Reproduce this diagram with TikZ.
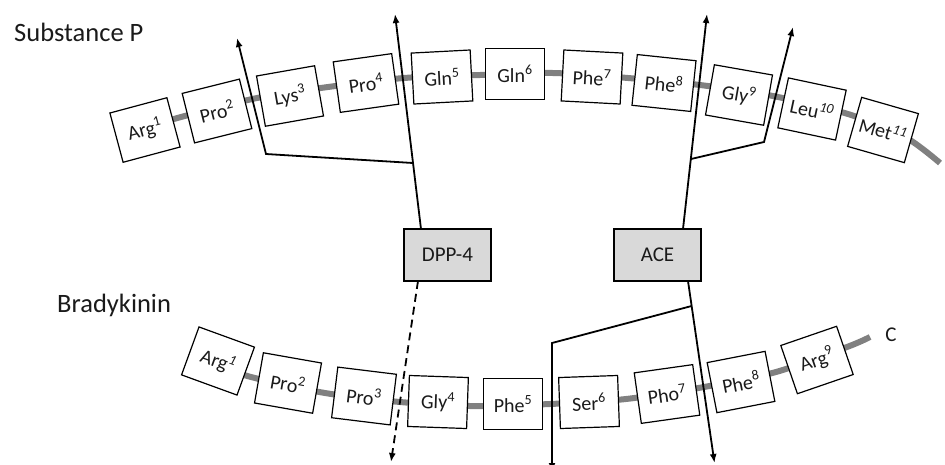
\documentclass[tikz,border=0pt]{standalone}
\usepackage{fontspec}
\setmainfont{Carlito}
\usetikzlibrary{arrows.meta}
\definecolor{bbgray}{HTML}{808080}
\definecolor{enzgray}{HTML}{D9D9D9}
\definecolor{txt}{HTML}{1A1A1A}
\begin{document}
\begin{tikzpicture}[x=1pt,y=-1pt,
  aa/.style={draw=black,line width=1.2pt,fill=white,text=txt,minimum width=59pt,minimum height=51pt,inner sep=0pt,font=\fontsize{20}{24}\selectfont},
  enz/.style={draw=black,line width=1.2pt,fill=enzgray,text=txt,minimum width=87pt,minimum height=52pt,inner sep=0pt,font=\fontsize{21}{25}\selectfont},
  bb/.style={draw=bbgray,line width=6pt},
  cut/.style={draw=black,line width=1.8pt},
  tip/.style={-{Latex[length=9pt,width=7pt]}},
  lbl/.style={text=txt,inner sep=0pt,font=\fontsize{26.5}{30}\selectfont}
]
\useasboundingbox (0,0) rectangle (945,464);

% labels
\node[lbl,anchor=base west] (lsp) at (14,41.7) {Substance P};
\node[lbl,anchor=base west] (lbk) at (57,312.7) {Bradykinin};
\node[text=txt,inner sep=0pt,font=\fontsize{21}{25}\selectfont] (cterm) at (891,335) {C};

% backbones
\draw[bb] plot[smooth,tension=0.5] coordinates {(145,128) (181,117) (257,98) (328,87) (404,78) (480,75) (553,73) (628,78) (700,85) (773,96) (848,114) (905,137) (940,163)};
\draw[bb] plot[smooth,tension=0.5] coordinates {(218,365) (251,377) (325,393) (400,402) (470,406) (550,404) (626,399) (704,387) (776,372) (847,347) (870,337)};

% Substance P residues
\node[aa,rotate=15]  (sp1)  at (145,130) {Arg\textsuperscript{1}};
\node[aa,rotate=14]  (sp2)  at (217,111) {Pro\textsuperscript{2}};
\node[aa,rotate=10]  (sp3)  at (290,96)  {Lys\textsuperscript{3}};
\node[aa,rotate=8]   (sp4)  at (366,83)  {Pro\textsuperscript{4}};
\node[aa,rotate=3]   (sp5)  at (442,77)  {Gln\textsuperscript{5}};
\node[aa,rotate=0]   (sp6)  at (515,74)  {Gln\textsuperscript{6}};
\node[aa,rotate=-3]  (sp7)  at (592,77)  {Phe\textsuperscript{7}};
\node[aa,rotate=-6]  (sp8)  at (664,83)  {Phe\textsuperscript{8}};
\node[aa,rotate=-10] (sp9)  at (739,95)  {Gly\textsuperscript{9}};
\node[aa,rotate=-12] (sp10) at (812,109) {Leu\textsuperscript{\textit{10}}};
\node[aa,rotate=-16] (sp11) at (883,130) {Met\textsuperscript{\textit{11}}};

% Bradykinin residues
\node[aa,rotate=-20] (bk1) at (218,361) {Arg\textsuperscript{\textit{1}}};
\node[aa,rotate=-10] (bk2) at (288,383) {Pro\textsuperscript{2}};
\node[aa,rotate=-7]  (bk3) at (364,396) {Pro\textsuperscript{3}};
\node[aa,rotate=-2]  (bk4) at (438,402) {Gly\textsuperscript{4}};
\node[aa,rotate=0]   (bk5) at (513,404) {Phe\textsuperscript{5}};
\node[aa,rotate=2]   (bk6) at (589,402) {Ser\textsuperscript{6}};
\node[aa,rotate=8]   (bk7) at (667,394) {Pho\textsuperscript{7}};
\node[aa,rotate=11]  (bk8) at (741,382) {Phe\textsuperscript{8}};
\node[aa,rotate=19]  (bk9) at (817,360) {Arg\textsuperscript{9}};

% enzymes
\node[enz] (dpp) at (447.5,255) {DPP-4};
\node[enz] (ace) at (657.5,255) {ACE};

% cleavage coordinates
\coordinate (dppT) at (421,229);
\coordinate (dppJ) at (413,163);
\coordinate (dppU) at (395,14);
\coordinate (dppK) at (266,154);
\coordinate (dppV) at (237,38);
\coordinate (dppB) at (418,281);
\coordinate (dppD) at (391,462);

\coordinate (aceT) at (683,229);
\coordinate (aceJ) at (691,159);
\coordinate (aceU) at (707,14);
\coordinate (aceK) at (764,142);
\coordinate (aceV) at (793,27);
\coordinate (aceB) at (688,281);
\coordinate (aceJ2) at (691.6,306);
\coordinate (aceD) at (714.5,463);
\coordinate (aceK2) at (552,343);
\coordinate (aceE) at (552,472);

% Substance P cleavage
\draw[cut,tip] (dppT) -- (dppU);
\draw[cut,tip,line join=miter] (dppJ) -- (dppK) -- (dppV);
\draw[cut,tip] (aceT) -- (aceU);
\draw[cut,tip] (aceJ) -- (aceK) -- (aceV);

% Bradykinin cleavage
\draw[cut,tip,dash pattern=on 8pt off 5pt] (dppB) -- (dppD);
\draw[cut,tip] (aceB) -- (aceD);
\draw[cut,tip] (aceJ2) -- (aceK2) -- (aceE);
\end{tikzpicture}
\end{document}
